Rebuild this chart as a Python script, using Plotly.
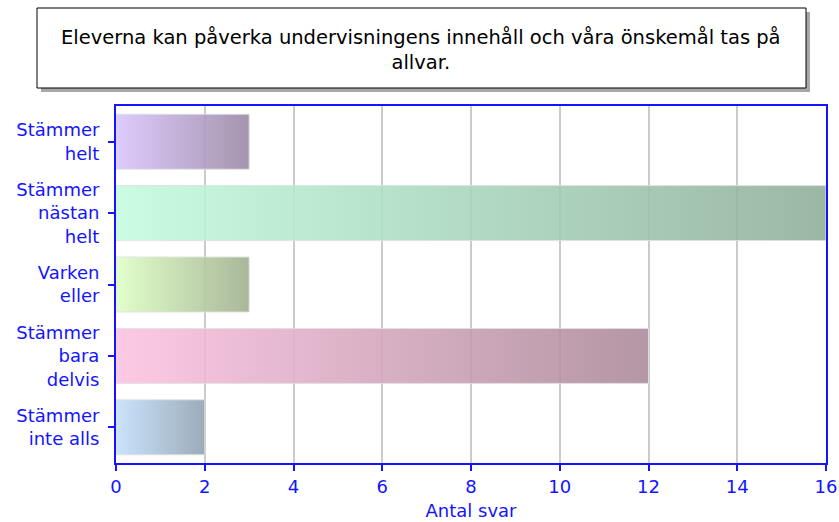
import plotly.graph_objects as go

# Data
categories = ["Stämmer<br>helt", "Stämmer<br>nästan<br>helt", "Varken<br>eller",
              "Stämmer<br>bara<br>delvis", "Stämmer<br>inte alls"]
values = [3, 16, 3, 12, 2]
x_ticks = [0, 2, 4, 6, 8, 10, 12, 14, 16]
title_text = "Eleverna kan påverka undervisningens innehåll och våra önskemål tas på<br>allvar."
x_title = "Antal svar"

# Styles
left_colors = ["rgba(218,196,255,0.88)", "rgba(194,252,222,0.88)", "rgba(222,255,196,0.88)",
               "rgba(252,194,224,0.88)", "rgba(194,224,252,0.88)"]
right_colors = ["rgba(152,134,162,0.88)", "rgba(142,174,152,0.88)", "rgba(158,174,140,0.88)",
                "rgba(170,136,152,0.88)", "rgba(144,160,176,0.88)"]
half = 0.385
blue = "#1414ff"

W, H = 839, 522
ml, mr, mt, mb = 116, 13, 106, 59
pw, ph = W - ml - mr, H - mt - mb

fig = go.Figure()
for i, (cat, v) in enumerate(zip(categories, values)):
    fig.add_trace(go.Scatter(
        x=[0, v, v, 0, 0],
        y=[i - half, i - half, i + half, i + half, i - half],
        mode="lines",
        fill="toself",
        fillgradient=dict(type="horizontal",
                          colorscale=[[0, left_colors[i]], [1, right_colors[i]]]),
        line=dict(color="rgba(225,225,225,0.9)", width=1),
        hoverinfo="skip",
        showlegend=False,
    ))


def px_x(p):
    return (p - ml) / pw


def px_y(p):
    return (H - mb - p) / ph


shapes = [
    dict(type="rect", xref="paper", yref="paper",
         x0=px_x(41), x1=px_x(810), y0=px_y(92), y1=px_y(12),
         fillcolor="#a8a8a8", line=dict(width=0), layer="above"),
    dict(type="rect", xref="paper", yref="paper",
         x0=px_x(37), x1=px_x(806), y0=px_y(88), y1=px_y(8),
         fillcolor="white", line=dict(color="black", width=1), layer="above"),
]

fig.update_layout(
    width=W, height=H,
    margin=dict(l=ml, r=mr, t=mt, b=mb, autoexpand=False),
    paper_bgcolor="white", plot_bgcolor="white",
    font=dict(family="DejaVu Sans", color=blue, size=18),
    shapes=shapes,
    annotations=[dict(
        text=title_text, xref="paper", yref="paper",
        x=px_x(421), y=px_y(50), xanchor="center", yanchor="middle",
        showarrow=False, font=dict(family="DejaVu Sans", size=19.5, color="black"),
    )],
    xaxis=dict(
        range=[0, 16], tickvals=x_ticks, ticktext=[str(t) for t in x_ticks],
        showgrid=True, gridcolor="#cbcbcb", gridwidth=2,
        zeroline=False, showline=True, linecolor=blue, linewidth=2, mirror=True,
        ticks="outside", ticklen=6, tickcolor=blue, tickwidth=2,
        tickfont=dict(size=18, color=blue),
        title=dict(text=x_title, font=dict(size=18, color=blue), standoff=9),
        automargin=False, fixedrange=True,
    ),
    yaxis=dict(
        range=[4.5, -0.5], tickvals=list(range(len(categories))), ticktext=categories,
        showgrid=False, zeroline=False, showline=True, linecolor=blue, linewidth=2,
        mirror=True, ticks="outside", ticklen=6, tickcolor=blue, tickwidth=2,
        tickfont=dict(size=18, color=blue), ticklabelstandoff=5,
        automargin=False, fixedrange=True,
    ),
)

fig.write_html("out.html", config={"displayModeBar": False},
               post_script="document.body.style.margin='0';")
